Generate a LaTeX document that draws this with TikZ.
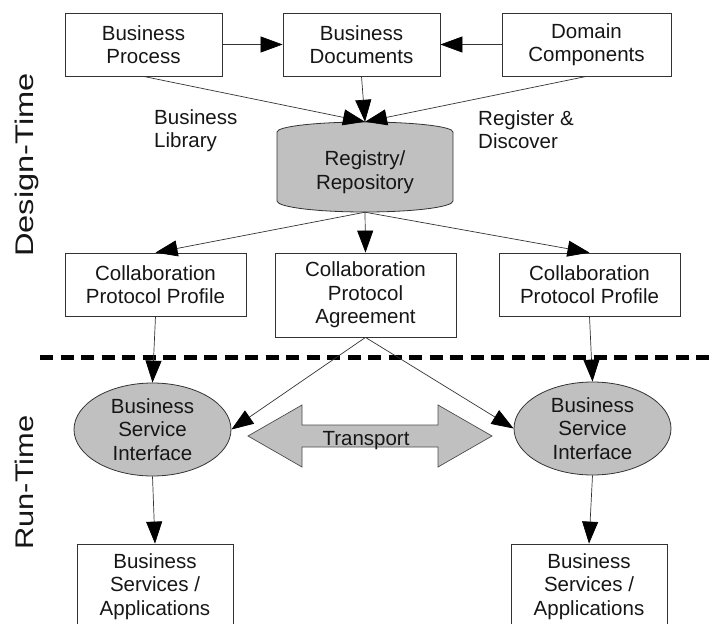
\documentclass[tikz,border=0pt]{standalone}
\usepackage{fontspec}
\setmainfont{Liberation Sans}
\usetikzlibrary{arrows.meta,shapes.geometric,calc}
\definecolor{shade}{HTML}{C0C0C0}
\definecolor{ink}{HTML}{161616}
\newcommand\dgboxfont{\fontsize{20.5}{23.5}\selectfont}
\newcommand\dgsidefont{\fontsize{25.5}{28}\selectfont}
\begin{document}
\begin{tikzpicture}[x=1pt,y=-1pt,
  box/.style={draw=black!80, line width=0.8pt, rectangle, inner sep=0pt,
    align=center, font=\dgboxfont, text=ink},
  oval/.style={draw=black!80, line width=0.8pt, ellipse, fill=shade, inner sep=0pt,
    minimum width=157pt, minimum height=93pt, align=center, font=\dgboxfont, text=ink},
  lbl/.style={inner sep=0pt, align=left, font=\dgboxfont, text=ink, anchor=north west},
  side/.style={inner sep=0pt, rotate=90, anchor=base, font=\dgsidefont, text=ink},
  flow/.style={draw=black!80, line width=0.7pt,
    -{Triangle[length=22pt,width=16pt,color=black]}},
  shapeline/.style={draw=black!80, line width=0.8pt, fill=shade}
]
\useasboundingbox (0,0) rectangle (718,624);
\clip (0,0) rectangle (718,624);

% design-time boxes
\node[box, minimum width=157pt, minimum height=63pt] (bp)  at (143.5,44.5) {Business\\Process};
\node[box, minimum width=157pt, minimum height=63pt] (bd)  at (361.5,44.5) {Business\\Documents};
\node[box, minimum width=169pt, minimum height=63pt] (dc)  at (586.5,44.5) {Domain\\Components};

% registry cylinder
\path[shapeline] (453,132) arc[start angle=0, end angle=180, x radius=88pt, y radius=10pt]
  -- (277,201) arc[start angle=180, end angle=360, x radius=88pt, y radius=11pt] -- cycle;
\node[inner sep=0pt, minimum width=176pt, minimum height=90pt] (repo) at (365,167) {};
\node[box, draw=none] (repotext) at (365,172) {Registry/\\Repository};

\node[lbl] (lib) at (154,109) {Business\\Library};
\node[lbl] (reg) at (478,110) {Register \&\\Discover};

\node[box, minimum width=181pt, minimum height=63pt] (cpp1) at (155.5,284.5) {Collaboration\\Protocol Profile};
\node[box, minimum width=181pt, minimum height=84pt] (cpa)  at (365.5,295)   {Collaboration\\Protocol\\Agreement};
\node[box, minimum width=181pt, minimum height=63pt] (cpp2) at (589.5,284.5) {Collaboration\\Protocol Profile};

% boundary between design time and run time
\coordinate (sepL) at (40,357);
\coordinate (sepR) at (714,357);
\draw[line width=5pt, dash pattern=on 13pt off 7.5pt] (sepL) -- (sepR);

% run-time part
\node[oval] (bsi1) at (152.5,429.5) {Business\\Service\\Interface};
\node[oval] (bsi2) at (592.5,428.5) {Business\\Service\\Interface};

\path[draw=black!70, line width=0.7pt, fill=shade]
  (248,436) -- (302,405) -- (302,425) -- (438,425) -- (438,405) -- (492,436)
  -- (438,467) -- (438,447) -- (302,447) -- (302,467) -- cycle;
\node[inner sep=0pt, anchor=base, font=\dgboxfont, text=ink] (transport) at (366,445) {Transport};

\node[box, minimum width=156pt, minimum height=85pt] (bsa1) at (155,586.5) {Business\\Services /\\Applications};
\node[box, minimum width=156pt, minimum height=85pt] (bsa2) at (589,586.5) {Business\\Services /\\Applications};

% side captions
\node[side] (dt) at (33,165) {\scalebox{1.28}[1]{Design-Time}};
\node[side] (rt) at (33,482.5) {\scalebox{1.21}[1]{Run-Time}};

% connectors
\draw[flow] (bp.east) -- (bd.west);
\draw[flow] (dc.west) -- (bd.east);
\draw[flow] (bp.south) -- (repo.north);
\draw[flow] (bd.south) -- (repo.north);
\draw[flow] (dc.south) -- (repo.north);
\draw[flow] (repo.south) -- (cpp1.north);
\draw[flow] (repo.south) -- (cpa.north);
\draw[flow] (repo.south) -- (cpp2.north);
\draw[flow] (cpp1.south) -- (bsi1.north);
\draw[flow] (cpp2.south) -- (bsi2.north);
\draw[flow] (cpa.south) -- (bsi1.east);
\draw[flow] (cpa.south) -- (bsi2.west);
\draw[flow] (bsi1.south) -- (bsa1.north);
\draw[flow] (bsi2.south) -- (bsa2.north);
\end{tikzpicture}
\end{document}
